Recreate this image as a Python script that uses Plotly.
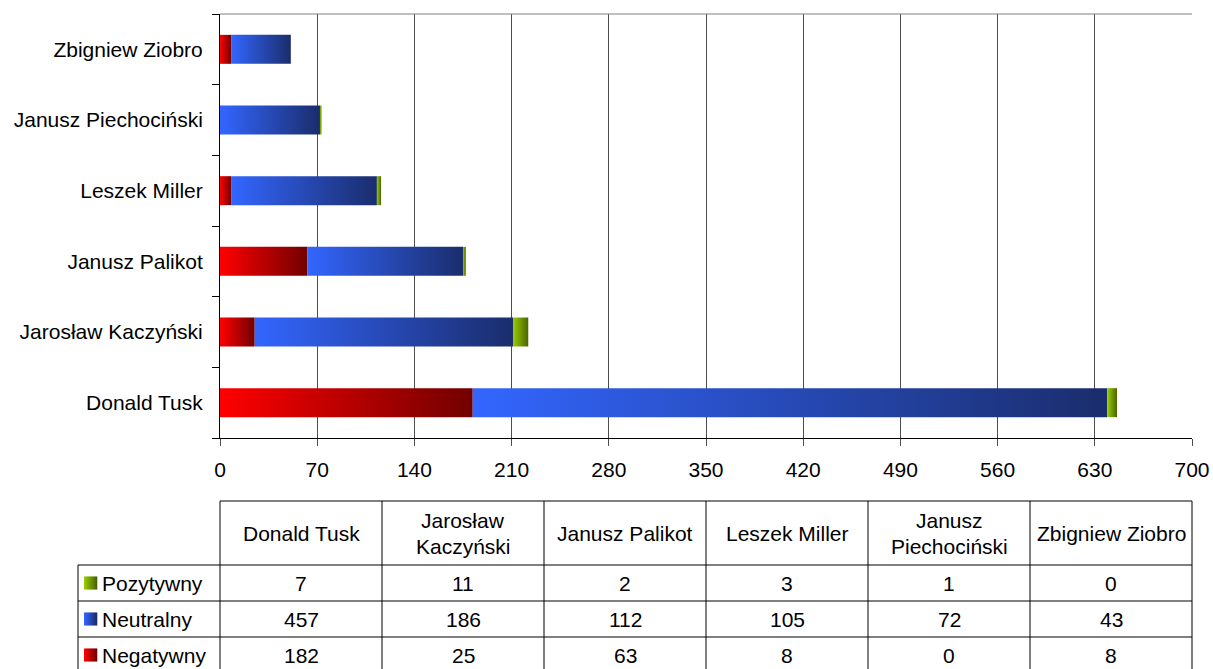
import plotly.graph_objects as go

# --- data -------------------------------------------------------------
politicians = ["Donald Tusk", "Jarosław Kaczyński", "Janusz Palikot",
               "Leszek Miller", "Janusz Piechociński", "Zbigniew Ziobro"]
header_lines = [["Donald Tusk"], ["Jarosław", "Kaczyński"], ["Janusz Palikot"],
                ["Leszek Miller"], ["Janusz", "Piechociński"], ["Zbigniew Ziobro"]]
negatywny = [182, 25, 63, 8, 0, 8]
neutralny = [457, 186, 112, 105, 72, 43]
pozytywny = [7, 11, 2, 3, 1, 0]
x_ticks = [0, 70, 140, 210, 280, 350, 420, 490, 560, 630, 700]

# stacking order left -> right, with gradient colour stops
series = [
    ("Negatywny", negatywny, ["#FF0000", "#720000"]),
    ("Neutralny", neutralny, ["#3366FF", "#1A2D6C"]),
    ("Pozytywny", pozytywny, ["#99CC00", "#4A6400"]),
]
# table rows top -> bottom
table_rows = [series[2], series[1], series[0]]

FONT = "Liberation Sans, Arial, sans-serif"
FS = 21
BAR_HALF = 0.205

# --- geometry of the plotting area (pixels) ---------------------------
W, H = 1213, 669
PL, PR, PT, PB = 220, 1192, 14, 438


def px2x(px):
    return (px - PL) / (PR - PL)


def py2y(py):
    return (PB - py) / (PB - PT)


fig = go.Figure()

# gradient-filled stacked bars
for i, name in enumerate(politicians):
    left = 0
    for sname, vals, stops in series:
        v = vals[i]
        if v <= 0:
            continue
        right = left + v
        fig.add_trace(go.Scatter(
            x=[left, right, right, left, left],
            y=[i - BAR_HALF, i - BAR_HALF, i + BAR_HALF, i + BAR_HALF, i - BAR_HALF],
            mode="lines", fill="toself",
            line=dict(width=0),
            fillgradient=dict(type="horizontal", start=left, stop=right,
                              colorscale=[[0, stops[0]], [1, stops[1]]]),
            name=sname, hoverinfo="skip", showlegend=False,
        ))
        left = right

shapes = []
annotations = []

# top border of the plotting area
shapes.append(dict(type="line", xref="paper", yref="paper", x0=0, x1=1, y0=1, y1=1,
                   line=dict(color="#808080", width=1)))

# --- data table under the chart --------------------------------------
TABLE_TOP, HEADER_BOTTOM, ROW_H = 501, 565, 36
LEFT_COL = 78
n_rows = len(table_rows)
table_bottom = HEADER_BOTTOM + ROW_H * n_rows
col_w = (PR - PL) / len(politicians)
line_style = dict(color="#000000", width=1)

# horizontal lines
shapes.append(dict(type="line", xref="paper", yref="paper",
                   x0=px2x(PL), x1=px2x(PR), y0=py2y(TABLE_TOP), y1=py2y(TABLE_TOP),
                   line=line_style))
for r in range(n_rows + 1):
    yy = HEADER_BOTTOM + r * ROW_H
    shapes.append(dict(type="line", xref="paper", yref="paper",
                       x0=px2x(LEFT_COL), x1=px2x(PR), y0=py2y(yy), y1=py2y(yy),
                       line=line_style))
# vertical lines
shapes.append(dict(type="line", xref="paper", yref="paper",
                   x0=px2x(LEFT_COL), x1=px2x(LEFT_COL),
                   y0=py2y(HEADER_BOTTOM), y1=py2y(table_bottom), line=line_style))
for c in range(len(politicians) + 1):
    xx = PL + c * col_w
    shapes.append(dict(type="line", xref="paper", yref="paper", x0=px2x(xx), x1=px2x(xx),
                       y0=py2y(TABLE_TOP), y1=py2y(table_bottom), line=line_style))

text_font = dict(family=FONT, size=FS, color="#000000")

# column headers
header_mid = (TABLE_TOP + HEADER_BOTTOM) / 2
for c, lines in enumerate(header_lines):
    cx = px2x(PL + (c + 0.5) * col_w)
    offsets = [0] if len(lines) == 1 else [-13, 13]
    for txt, off in zip(lines, offsets):
        annotations.append(dict(xref="paper", yref="paper", x=cx, y=py2y(header_mid + off),
                                text=txt, showarrow=False, xanchor="center",
                                yanchor="middle", font=text_font))

# rows: legend swatch + label + values
SW = 13
for r, (sname, vals, stops) in enumerate(table_rows):
    cy = HEADER_BOTTOM + (r + 0.5) * ROW_H
    # gradient swatch made of thin strips
    n_strips = SW
    c0 = [int(stops[0][k:k + 2], 16) for k in (1, 3, 5)]
    c1 = [int(stops[1][k:k + 2], 16) for k in (1, 3, 5)]
    for s in range(n_strips):
        t = s / (n_strips - 1)
        col = "rgb({},{},{})".format(*[round(a + (b - a) * t) for a, b in zip(c0, c1)])
        sx0 = 84 + s * SW / n_strips
        shapes.append(dict(type="rect", xref="paper", yref="paper",
                           x0=px2x(sx0), x1=px2x(sx0 + SW / n_strips + 0.3),
                           y0=py2y(cy - SW / 2), y1=py2y(cy + SW / 2),
                           line=dict(width=0), fillcolor=col))
    annotations.append(dict(xref="paper", yref="paper", x=px2x(100), y=py2y(cy),
                            text=sname, showarrow=False, xanchor="left",
                            yanchor="middle", font=text_font))
    for c, v in enumerate(vals):
        annotations.append(dict(xref="paper", yref="paper",
                                x=px2x(PL + (c + 0.5) * col_w), y=py2y(cy),
                                text=str(v), showarrow=False, xanchor="center",
                                yanchor="middle", font=text_font))

fig.update_layout(
    width=W, height=H,
    margin=dict(l=PL, r=W - PR, t=PT, b=H - PB, pad=0),
    paper_bgcolor="white", plot_bgcolor="white",
    showlegend=False,
    font=dict(family=FONT, size=FS, color="#000000"),
    shapes=shapes, annotations=annotations,
    xaxis=dict(
        range=[0, 700], tickvals=x_ticks, ticktext=[str(t) for t in x_ticks],
        showgrid=True, gridcolor="#4d4d4d", gridwidth=1,
        zeroline=False, showline=True, linecolor="#000000", linewidth=1,
        ticks="outside", ticklen=7, tickcolor="#4d4d4d",
        ticklabelstandoff=6, tickfont=dict(family=FONT, size=FS, color="#000000"),
        automargin=False, fixedrange=True,
    ),
    yaxis=dict(
        range=[-0.5, len(politicians) - 0.5],
        tickvals=list(range(len(politicians))), ticktext=politicians,
        showgrid=False, zeroline=False,
        showline=True, linecolor="#000000", linewidth=1,
        ticks="outside", ticklen=0,
        minor=dict(ticks="outside", ticklen=7, tickcolor="#000000",
                   tick0=-0.5, dtick=1, showgrid=False),
        ticklabelstandoff=12, tickfont=dict(family=FONT, size=FS, color="#000000"),
        automargin=False, fixedrange=True,
    ),
)

fig.write_html("out.html")
